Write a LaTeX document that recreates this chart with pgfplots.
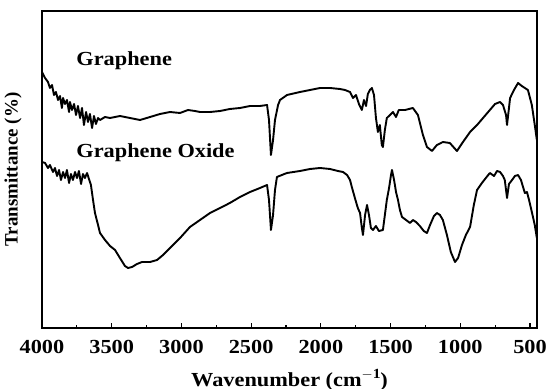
\documentclass[border=0pt]{standalone}
\usepackage{fontspec}
\setmainfont{Liberation Serif}[FakeStretch=1.12]
\newfontfamily\yfont{Liberation Serif}
\usepackage{pgfplots}
\pgfplotsset{compat=1.18}
\pgfplotstableread{
wn y
4000 256
3978 250
3957 246
3943 240
3928 243
3914 233
3900 236
3885 228
3871 232
3857 220
3849 230
3835 224
3821 228
3806 216
3799 226
3785 218
3770 224
3756 213
3742 222
3727 210
3713 220
3699 203
3684 216
3670 206
3656 214
3641 200
3627 212
3613 204
3598 210
3584 208
3548 211
3512 210
3441 212
3369 210
3297 208
3225 211
3154 214
3082 216
3010 215
2953 218
2903 217
2867 216
2795 216
2723 217
2653 219
2580 220
2508 222
2437 222
2386 223
2372 208
2358 173
2343 188
2329 208
2307 223
2293 228
2243 233
2150 236
2078 238
2006 240
1934 240
1863 239
1827 238
1791 236
1770 230
1748 233
1727 224
1706 218
1691 228
1676 222
1663 234
1649 238
1634 240
1619 233
1605 210
1591 196
1577 203
1563 183
1555 181
1541 198
1527 210
1504 213
1483 216
1461 211
1441 218
1397 218
1340 220
1304 213
1268 193
1239 181
1203 177
1168 183
1125 186
1075 185
1024 177
981 186
930 196
880 203
837 210
788 218
751 224
715 226
694 223
672 213
665 203
651 220
643 230
615 238
586 245
559 242
515 238
487 223
466 203
451 188
}\graphene
\pgfplotstableread{
wn y
4000 166
3978 165
3957 160
3943 163
3921 156
3907 160
3892 152
3878 158
3864 148
3849 156
3835 150
3821 158
3806 145
3792 154
3778 148
3763 156
3749 150
3735 157
3720 144
3706 154
3692 150
3677 155
3663 149
3649 143
3634 128
3620 115
3598 103
3584 95
3548 88
3512 82
3476 78
3441 70
3405 62
3383 60
3354 61
3319 64
3283 66
3225 66
3175 68
3132 73
3082 80
3010 90
2939 101
2867 108
2795 115
2723 120
2653 125
2580 131
2508 136
2437 140
2386 143
2372 128
2358 98
2343 113
2329 138
2315 151
2280 153
2243 155
2150 157
2078 159
2006 160
1934 159
1877 157
1841 156
1812 153
1791 148
1778 141
1756 130
1735 120
1719 115
1706 100
1698 93
1683 113
1669 123
1655 113
1641 100
1626 98
1605 102
1584 97
1555 98
1541 113
1527 128
1511 140
1497 153
1490 158
1475 148
1461 136
1447 128
1433 118
1418 111
1389 108
1361 105
1340 108
1318 106
1290 102
1262 97
1239 95
1217 103
1189 112
1168 115
1146 113
1125 108
1096 93
1068 76
1038 66
1016 70
988 83
960 93
930 101
903 123
880 138
845 145
817 150
788 155
758 152
737 157
715 156
694 152
681 148
665 130
651 144
629 148
608 152
586 153
565 148
550 141
537 135
522 136
507 128
487 116
466 103
451 90
}\grapheneoxide
\begin{document}
\begin{tikzpicture}
\path[use as bounding box] (-42bp,-61bp) rectangle (507bp,328bp);
\begin{axis}[
  at={(0,0)}, anchor=south west,
  scale only axis, width=495bp, height=317bp,
  x dir=reverse, xmin=450, xmax=4000, ymin=0, ymax=317,
  xtick={500,1000,...,4000},
  minor xtick={750,1250,...,3750},
  ytick=\empty,
  xtick pos=bottom, tick align=inside,
  major tick length=5bp, minor tick length=3bp,
  every tick/.style={black, line width=1.2bp},
  axis line style={line width=1.5bp},
  /pgf/number format/assume math mode=true,
  /pgf/number format/1000 sep={},
  ticklabel style={font=\fontsize{20}{22}\selectfont\bfseries},
  xticklabel style={yshift=-9bp},
  xlabel={Wavenumber (cm$^{\mathbf{-1}}$)},
  xlabel style={font=\fontsize{20}{22}\selectfont\bfseries, at={(axis description cs:0.5,-0.164)}, anchor=center},
  ylabel={Transmittance (\%)},
  ylabel style={font=\yfont\fontsize{19}{21}\selectfont\bfseries, at={(axis description cs:-0.0586,0.5)}, anchor=center},
  clip=false,
]
\addplot[black, line width=1.9bp, line join=round] table[x=wn, y=y] {\graphene};
\addplot[black, line width=1.9bp, line join=round] table[x=wn, y=y] {\grapheneoxide};
\node[anchor=west, font=\fontsize{20}{22}\selectfont\bfseries] at (axis cs:3778,267) {Graphene};
\node[anchor=west, font=\fontsize{20}{22}\selectfont\bfseries] at (axis cs:3778,175) {Graphene Oxide};
\end{axis}
\end{tikzpicture}
\end{document}
